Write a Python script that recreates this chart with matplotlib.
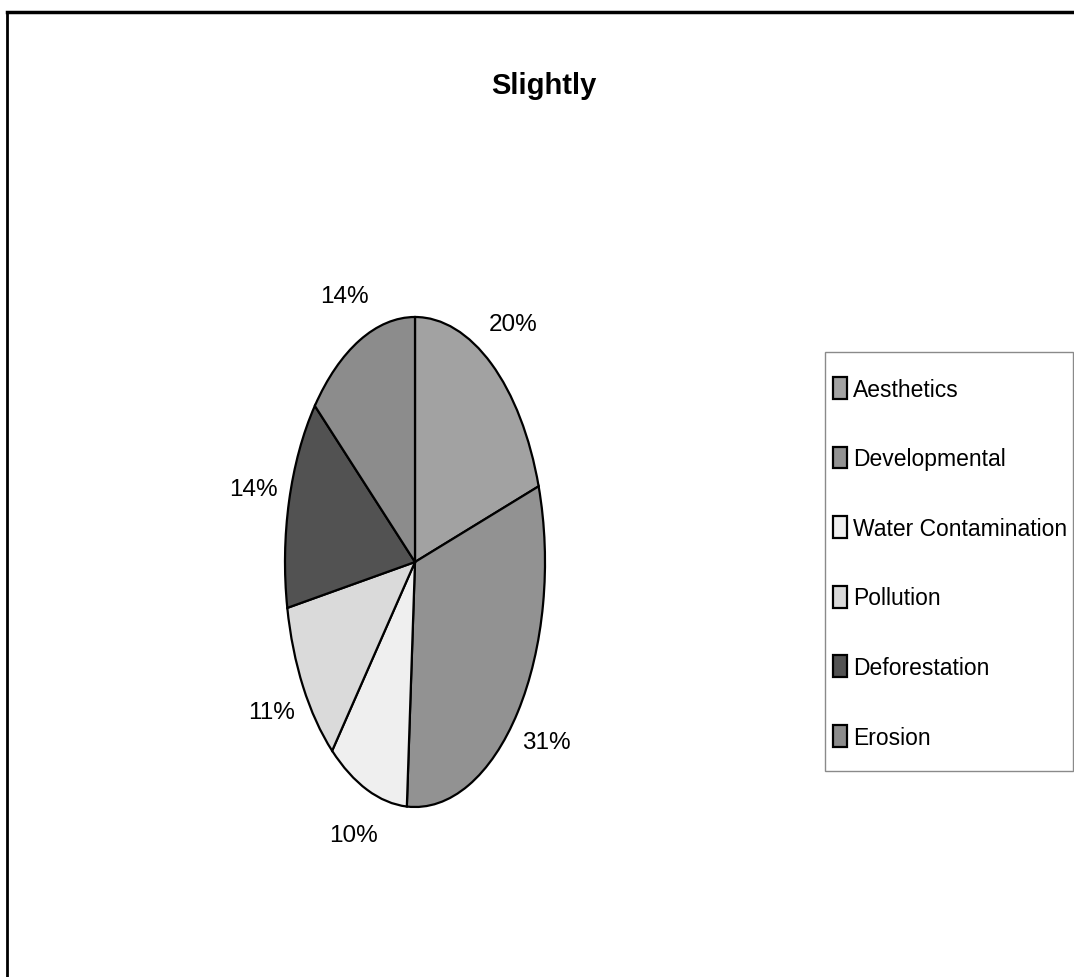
import numpy as np
import matplotlib.pyplot as plt
from matplotlib.lines import Line2D
from matplotlib.patches import Rectangle

categories = ['Aesthetics', 'Developmental', 'Water Contamination',
              'Pollution', 'Deforestation', 'Erosion']
shares = [20, 31, 10, 11, 14, 14]
colors = ['#a2a2a2', '#929292', '#efefef', '#dadada', '#525252', '#8c8c8c']
title = 'Slightly'

plt.rcParams['font.family'] = ['Liberation Sans', 'DejaVu Sans']

W, H = 1074, 978
fig = plt.figure(figsize=(W / 100, H / 100), dpi=100)

# frame lines of the scanned chart area
fig.add_artist(Line2D([7 / W, 7 / W], [0, 1 - 13 / H], color='black', lw=2))
fig.add_artist(Line2D([7 / W, 1], [1 - 13 / H, 1 - 13 / H], color='black', lw=2.5))

# pie is drawn stretched vertically, like the source
ax = fig.add_axes([285 / W, 1 - 808 / H, 260 / W, 490 / H])
wedges, _ = ax.pie(shares, colors=colors, startangle=90, counterclock=False,
                   wedgeprops=dict(edgecolor='black', linewidth=1.6))
ax.set_aspect('auto')
ax.set_xlim(-1, 1)
ax.set_ylim(-1, 1)
ax.axis('off')

# percentage labels outside each wedge
for w, v in zip(wedges, shares):
    mid = np.deg2rad((w.theta1 + w.theta2) / 2)
    ax.text(1.28 * np.cos(mid), 1.2 * np.sin(mid), f'{v}%',
            ha='center', va='center', fontsize=17.5, clip_on=False)

fig.text(544 / W, 1 - 86 / H, title, ha='center', va='center',
         fontsize=21, fontweight='bold')

# legend box (drawn separately so its padding can differ per side)
fig.add_artist(Rectangle((825 / W, 1 - 772 / H), (1073 - 825) / W, (772 - 353) / H,
                         transform=fig.transFigure, facecolor='white',
                         edgecolor='#8a8a8a', lw=1, zorder=1))
leg = fig.legend(wedges, categories, loc='upper left',
                 bbox_to_anchor=(833 / W, 1 - 378 / H), fontsize=16.5,
                 frameon=False, handlelength=0.61, handleheight=1.09,
                 handletextpad=0.28, labelspacing=2.0, borderpad=0,
                 borderaxespad=0)
leg.set_zorder(2)

fig.savefig('out.png', dpi=100, facecolor='white')
